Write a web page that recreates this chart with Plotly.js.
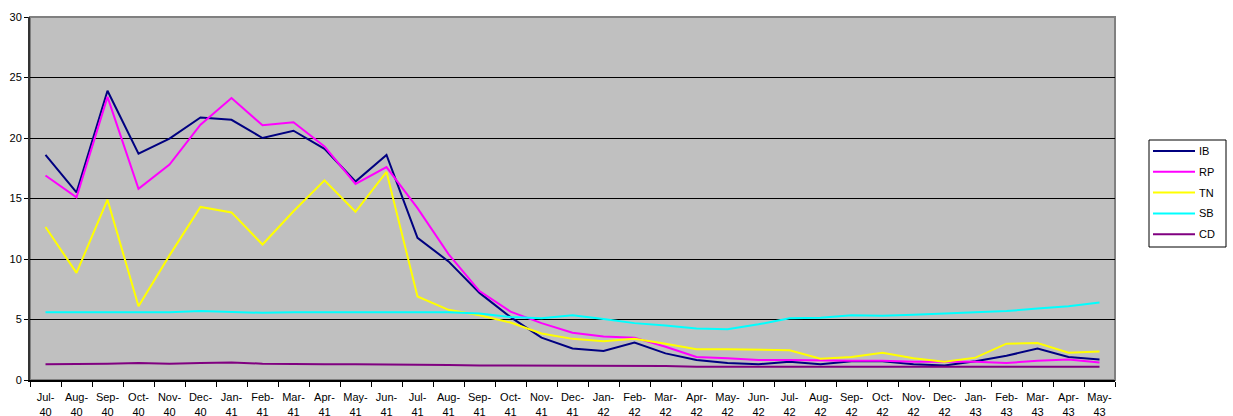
<!DOCTYPE html>
<html>
<head>
<meta charset="utf-8">
<script src="https://cdn.plot.ly/plotly-3.0.1.min.js"></script>
<style>
  html, body { margin: 0; padding: 0; background: #ffffff; }
  #chart { width: 1233px; height: 416px; }
</style>
</head>
<body>
<div id="chart"></div>
<script>
// Monthly categories, July 1940 to May 1943
const months = [
  "Jul-40","Aug-40","Sep-40","Oct-40","Nov-40","Dec-40",
  "Jan-41","Feb-41","Mar-41","Apr-41","May-41","Jun-41",
  "Jul-41","Aug-41","Sep-41","Oct-41","Nov-41","Dec-41",
  "Jan-42","Feb-42","Mar-42","Apr-42","May-42","Jun-42",
  "Jul-42","Aug-42","Sep-42","Oct-42","Nov-42","Dec-42",
  "Jan-43","Feb-43","Mar-43","Apr-43","May-43"
];
// Tick text wraps the year onto a second line
const tickLabels = months.map(m => m.replace("-", "-<br>"));

const IB = [18.6, 15.5, 23.9, 18.7, 19.95, 21.7, 21.5, 20.0, 20.6, 19.1, 16.4, 18.6,
            11.75, 9.8, 7.2, 5.2, 3.5, 2.6, 2.4, 3.1, 2.2, 1.65, 1.4, 1.3,
            1.5, 1.3, 1.55, 1.55, 1.3, 1.2, 1.55, 2.0, 2.6, 1.9, 1.7];
const RP = [16.9, 15.1, 23.4, 15.8, 17.8, 21.1, 23.3, 21.05, 21.3, 19.3, 16.2, 17.6,
            14.2, 10.4, 7.35, 5.65, 4.7, 3.9, 3.6, 3.5, 2.75, 1.9, 1.8, 1.65,
            1.65, 1.6, 1.6, 1.6, 1.5, 1.5, 1.5, 1.4, 1.6, 1.7, 1.45];
const TN = [12.65, 8.85, 14.9, 6.1, 10.3, 14.3, 13.85, 11.2, 13.95, 16.5, 13.9, 17.2,
            6.9, 5.8, 5.35, 4.75, 3.85, 3.4, 3.2, 3.4, 3.0, 2.55, 2.55, 2.5,
            2.45, 1.75, 1.9, 2.25, 1.8, 1.5, 1.85, 3.0, 3.05, 2.25, 2.35];
const SB = [5.6, 5.6, 5.6, 5.6, 5.6, 5.7, 5.6, 5.55, 5.6, 5.6, 5.6, 5.6,
            5.6, 5.6, 5.5, 5.2, 5.1, 5.35, 5.05, 4.7, 4.5, 4.25, 4.2, 4.6,
            5.1, 5.15, 5.35, 5.3, 5.4, 5.5, 5.6, 5.7, 5.9, 6.1, 6.4];
const CD = [1.3, 1.3, 1.35, 1.4, 1.35, 1.4, 1.45, 1.35, 1.3, 1.3, 1.3, 1.3,
            1.25, 1.25, 1.2, 1.2, 1.15, 1.15, 1.15, 1.15, 1.15, 1.1, 1.1, 1.1,
            1.1, 1.1, 1.1, 1.1, 1.1, 1.1, 1.1, 1.1, 1.1, 1.1, 1.1];

const seriesNames = ["IB", "RP", "TN", "SB", "CD"];
const seriesValues = [IB, RP, TN, SB, CD];
const seriesColors = ["#000080", "#FF00FF", "#FFFF00", "#00FFFF", "#800080"];

const traces = seriesNames.map((name, i) => ({
  type: "scatter",
  mode: "lines",
  name: name,
  x: months,
  y: seriesValues[i],
  line: { color: seriesColors[i], width: 2 },
  showlegend: false
}));

// Boxed key to the right of the plot: one line sample and label per series
const W = 1233, H = 416;
const M = { l: 30, r: 118, t: 17, b: 36 };
const plotW = W - M.l - M.r, plotH = H - M.t - M.b;
const px = x => (x - M.l) / plotW;          // page px -> paper x
const py = y => (H - M.b - y) / plotH;      // page px -> paper y

const key = { left: 1149, right: 1226, top: 140, bottom: 247, firstRow: 151, rowGap: 20.8,
              lineX0: 1153, lineX1: 1195, textX: 1197 };

const shapes = [
  {
    type: "rect", xref: "paper", yref: "paper",
    x0: 0, x1: 1, y0: 0, y1: 1,
    line: { color: "#808080", width: 2 },
    fillcolor: "rgba(0,0,0,0)",
    layer: "below"
  },
  {
    type: "rect", xref: "paper", yref: "paper",
    x0: px(key.left), x1: px(key.right), y0: py(key.bottom), y1: py(key.top),
    line: { color: "#000000", width: 1 },
    fillcolor: "#ffffff"
  }
];
const annotations = [];
seriesNames.forEach((name, i) => {
  const y = key.firstRow + i * key.rowGap;
  shapes.push({
    type: "line", xref: "paper", yref: "paper",
    x0: px(key.lineX0), x1: px(key.lineX1), y0: py(y), y1: py(y),
    line: { color: seriesColors[i], width: 2 }
  });
  annotations.push({
    xref: "paper", yref: "paper",
    x: px(key.textX), y: py(y),
    xanchor: "left", yanchor: "middle",
    text: name, showarrow: false,
    font: { size: 11, color: "#000000" }
  });
});

const layout = {
  width: W,
  height: H,
  margin: M,
  paper_bgcolor: "#ffffff",
  plot_bgcolor: "#C0C0C0",
  font: { family: "Liberation Sans, Arial, sans-serif", size: 11, color: "#000000" },
  showlegend: false,
  xaxis: {
    type: "category",
    tickmode: "array",
    tickvals: months,
    ticktext: tickLabels,
    tickson: "boundaries",
    ticks: "outside",
    ticklen: 5,
    tickcolor: "#000000",
    ticklabelstandoff: 6,
    showgrid: false,
    showline: true,
    linecolor: "#000000",
    linewidth: 2,
    tickangle: 0,
    tickfont: { size: 11 },
    range: [-0.5, months.length - 0.5],
    fixedrange: true
  },
  yaxis: {
    range: [0, 30],
    dtick: 5,
    ticks: "outside",
    ticklen: 4,
    tickcolor: "#000000",
    showgrid: true,
    gridcolor: "#000000",
    gridwidth: 1,
    showline: true,
    linecolor: "#333333",
    linewidth: 2,
    zeroline: false,
    tickfont: { size: 11 },
    fixedrange: true
  },
  shapes: shapes,
  annotations: annotations
};

Plotly.newPlot("chart", traces, layout, { displayModeBar: false, staticPlot: true });
</script>
</body>
</html>
